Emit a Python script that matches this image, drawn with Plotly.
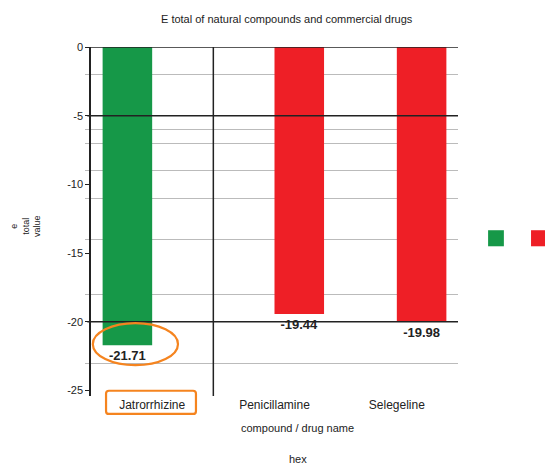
import plotly.graph_objects as go

# Categories and values
compounds = ["Jatrorrhizine", "Penicillamine", "Selegeline"]
natural_values = [-21.71, None, None]      # natural compound series (green)
drug_values = [None, -19.44, -19.98]       # commercial drug series (red)

# Y-axis ticks and reference lines
y_tick_vals = [0, -5, -10, -15, -20, -25]
y_tick_text = ["0", "-5", "-10", "-15", "-20", "-25"]
minor_grid_vals = [-2, -6, -7, -9, -11, -14, -18, -23]
major_line_vals = [0, -5, -20]

GREEN = "#169848"
RED = "#EE1F26"
ORANGE = "#F5841F"
FONT = "Liberation Sans, Arial, sans-serif"

fig = go.Figure()
fig.add_trace(go.Bar(
    x=compounds, y=natural_values, name="natural compound",
    marker=dict(color=GREEN, line=dict(width=0)),
    texttemplate="<b>%{y:.2f}</b>", textposition="outside",
    textfont=dict(family=FONT, size=13, color="#222"),
    cliponaxis=False, showlegend=False,
))
fig.add_trace(go.Bar(
    x=compounds, y=drug_values, name="commercial drug",
    marker=dict(color=RED, line=dict(width=0)),
    texttemplate="<b>%{y:.2f}</b>", textposition="outside",
    textfont=dict(family=FONT, size=13, color="#222"),
    cliponaxis=False, showlegend=False,
))

shapes = []
# dark horizontal reference lines
for v in major_line_vals:
    shapes.append(dict(type="line", xref="paper", yref="y", x0=-0.01, x1=1.0,
                       y0=v, y1=v, line=dict(color="#222", width=1.5), layer="above"))
# vertical divider between first and second category
shapes.append(dict(type="line", xref="x", yref="paper", x0=0.5, x1=0.5, y0=0, y1=1,
                   line=dict(color="#222", width=1.5), layer="above"))
# highlight around the first bar's value
shapes.append(dict(type="circle", xref="paper", yref="y", x0=0.005, x1=0.237,
                   y0=-20.1, y1=-23.15, line=dict(color=ORANGE, width=2.2), layer="above"))
# highlight around the first category label (rounded box)
bx0, bx1, by0, by1, r = 0.041, 0.286, -0.0515, 0.015, 0.008
path = (f"M {bx0 + r},{by1} L {bx1 - r},{by1} Q {bx1},{by1} {bx1},{by1 - r} "
        f"L {bx1},{by0 + r} Q {bx1},{by0} {bx1 - r},{by0} L {bx0 + r},{by0} "
        f"Q {bx0},{by0} {bx0},{by0 + r} L {bx0},{by1 - r} Q {bx0},{by1} {bx0 + r},{by1} Z")
shapes.append(dict(type="path", xref="paper", yref="paper", path=path,
                   line=dict(color=ORANGE, width=2.2), layer="above"))
# legend swatches
shapes.append(dict(type="rect", xref="paper", yref="paper", x0=1.082, x1=1.125,
                   y0=0.429, y1=0.475, fillcolor=GREEN, line=dict(width=0)))
shapes.append(dict(type="rect", xref="paper", yref="paper", x0=1.199, x1=1.237,
                   y0=0.429, y1=0.475, fillcolor=RED, line=dict(width=0)))

annotations = [
    dict(text="E total of natural compounds and commercial drugs", xref="paper", yref="paper",
         x=0.535, y=1.08, xanchor="center", yanchor="middle", showarrow=False,
         font=dict(family=FONT, size=11, color="#222")),
    dict(text="compound / drug name", xref="paper", yref="paper", x=0.564, y=-0.092,
         xanchor="center", yanchor="middle", showarrow=False,
         font=dict(family=FONT, size=11, color="#222")),
    dict(text="hex", xref="paper", yref="paper", x=0.564, y=-0.18,
         xanchor="center", yanchor="middle", showarrow=False,
         font=dict(family=FONT, size=11, color="#222")),
    dict(text="e<br>total<br>value", xref="paper", yref="paper", x=-0.18, y=0.487,
         xanchor="center", yanchor="middle", showarrow=False, textangle=-90,
         font=dict(family=FONT, size=9, color="#222")),
]

fig.update_layout(
    width=545, height=472,
    margin=dict(l=91, r=87, t=47, b=76),
    paper_bgcolor="white", plot_bgcolor="white",
    barmode="group", bargap=0.19, bargroupgap=0,
    font=dict(family=FONT, size=11, color="#222"),
    shapes=shapes, annotations=annotations,
)
fig.update_xaxes(
    type="category", showgrid=False, zeroline=False, showline=False,
    ticks="", tickfont=dict(family=FONT, size=12, color="#222"),
)
fig.update_yaxes(
    range=[-25.4, 0], zeroline=False, showgrid=False,
    showline=True, linecolor="#222", linewidth=1.5,
    tickmode="array", tickvals=y_tick_vals, ticktext=y_tick_text,
    ticks="outside", ticklen=4, tickcolor="#222",
    tickfont=dict(family=FONT, size=11, color="#222"),
    minor=dict(tickmode="array", tickvals=minor_grid_vals, showgrid=True,
               gridcolor="#BBBBBB", gridwidth=1.2, ticks="outside",
               ticklen=4, tickcolor="#BBBBBB"),
)

fig.write_html("out.html")
